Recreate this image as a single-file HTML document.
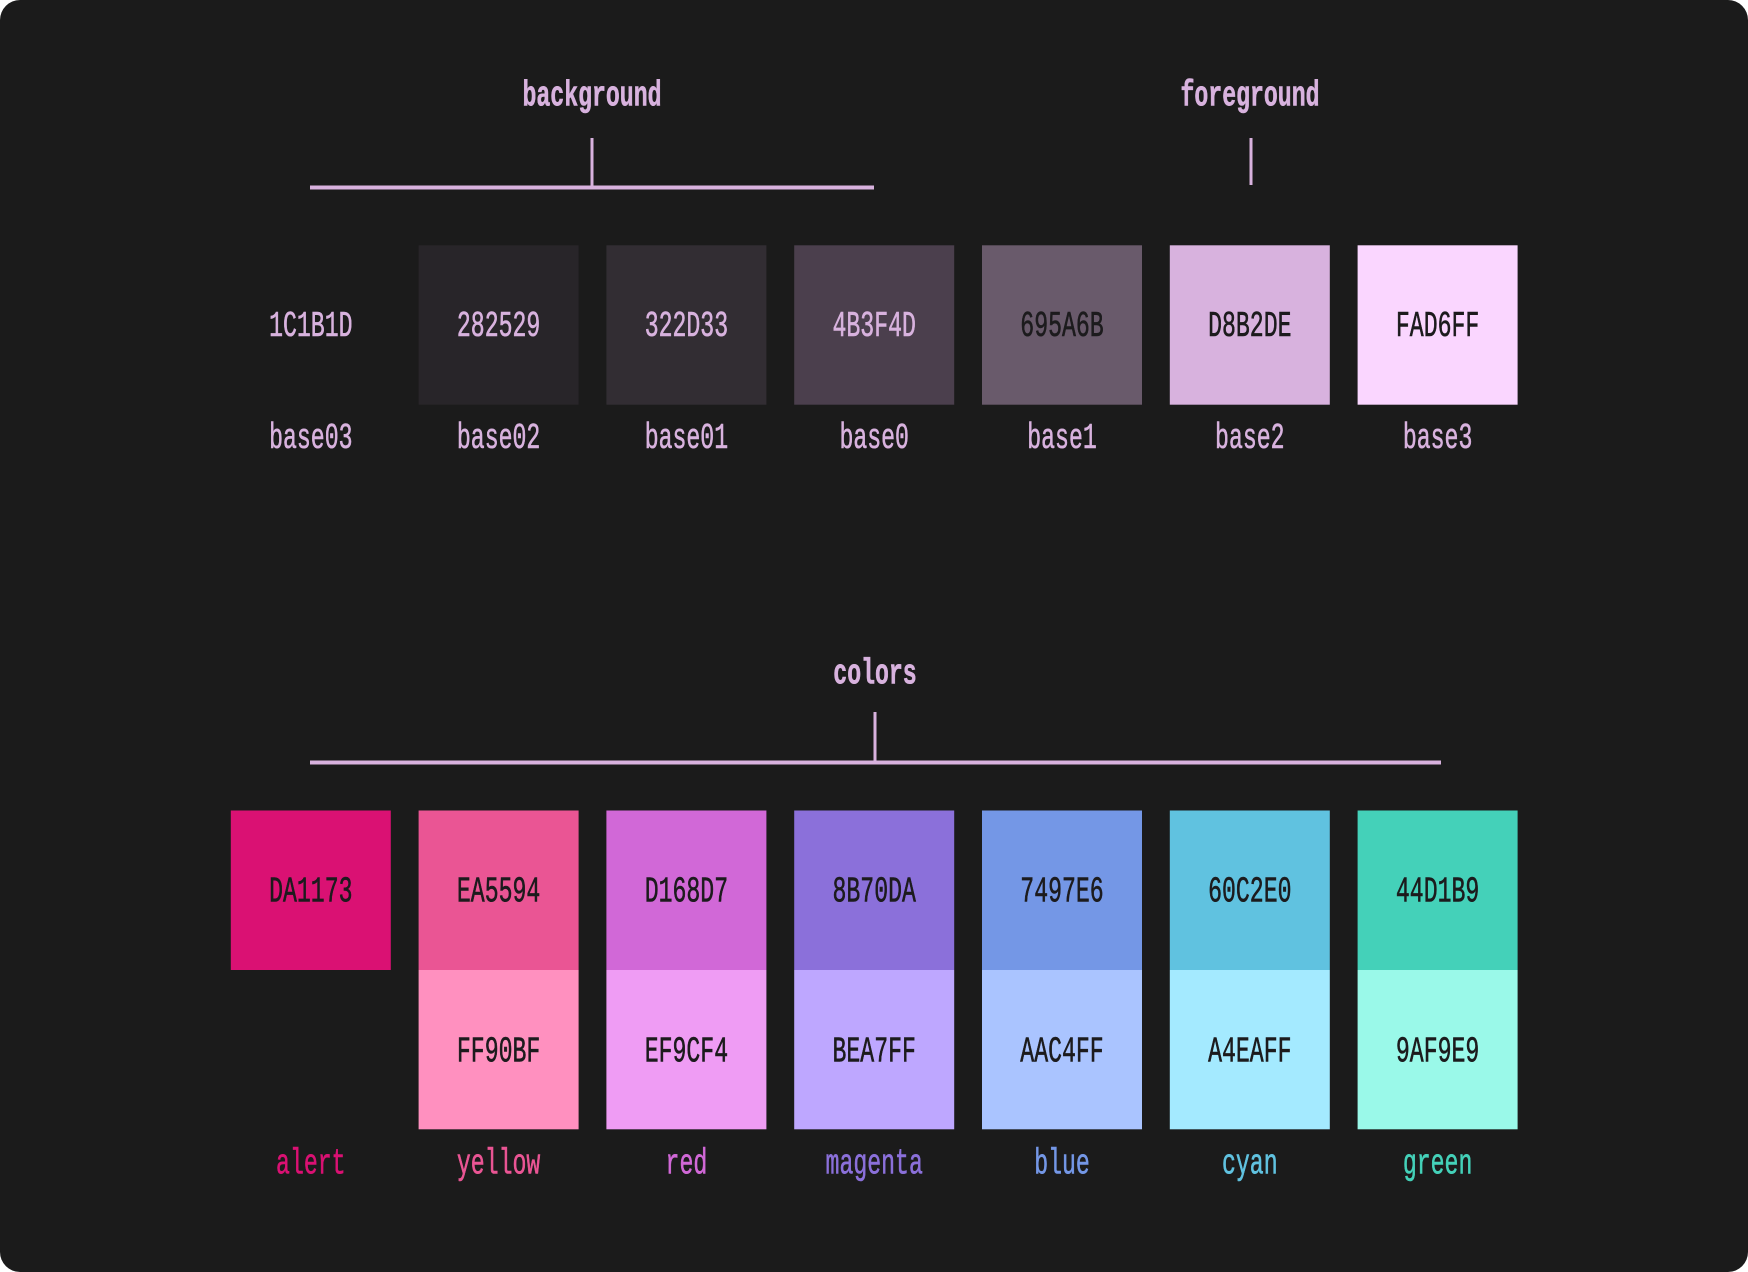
<!DOCTYPE html>
<html><head><meta charset="utf-8"><style>
html,body{margin:0;padding:0;background:#fff;}
svg{display:block;}
text{font-family:"Liberation Mono",monospace;}
</style></head><body>
<svg id="c" width="1748" height="1272" viewBox="0 0 1748 1272">
<rect x="0" y="0" width="1748" height="1272" rx="20" fill="#1b1b1b"/>
</svg>
<script>
const baseHex = ["1C1B1D","282529","322D33","4B3F4D","695A6B","D8B2DE","FAD6FF"];
const baseNames = ["base03","base02","base01","base0","base1","base2","base3"];
const accentHex = ["DA1173","EA5594","D168D7","8B70DA","7497E6","60C2E0","44D1B9"];
const lightHex = [null,"FF90BF","EF9CF4","BEA7FF","AAC4FF","A4EAFF","9AF9E9"];
const accentNames = ["alert","yellow","red","magenta","blue","cyan","green"];

const NS="http://www.w3.org/2000/svg";
const svg=document.getElementById('c');
const X0=230.8, STEP=187.8, W=160;
const fg="#D8B2DE";
function colX(i){return X0+i*STEP;}
function lum(h){const r=parseInt(h.slice(0,2),16),g=parseInt(h.slice(2,4),16),b=parseInt(h.slice(4,6),16);return 0.299*r+0.587*g+0.114*b;}
function rect(x,y,w,h,fill){const r=document.createElementNS(NS,'rect');r.setAttribute('x',x);r.setAttribute('y',y);r.setAttribute('width',w);r.setAttribute('height',h);r.setAttribute('fill',fill);svg.appendChild(r);return r;}
function txt(s,x,y,fill,bold){const t=document.createElementNS(NS,'text');t.setAttribute('x',x);t.setAttribute('y',y+3);t.setAttribute('fill',fill);t.setAttribute('stroke',fill);t.setAttribute('stroke-width','0.6');t.setAttribute('text-anchor','middle');t.setAttribute('dominant-baseline','central');t.setAttribute('font-size','36');if(bold)t.setAttribute('font-weight','bold');t.setAttribute('textLength',s.length*13.9);t.setAttribute('lengthAdjust','spacingAndGlyphs');t.textContent=s;svg.appendChild(t);return t;}
function line(x1,y1,x2,y2,w){const l=document.createElementNS(NS,'line');l.setAttribute('x1',x1);l.setAttribute('y1',y1);l.setAttribute('x2',x2);l.setAttribute('y2',y2);l.setAttribute('stroke',fg);l.setAttribute('stroke-width',w);svg.appendChild(l);return l;}

let e;
e=txt("background",592,93,fg,true);


e=txt("foreground",1250,93,fg,true);


e=txt("colors",875,671,fg,true);


e=line(310,187.5,874,187.5,4);


e=line(592,138,592,187,3);


e=line(1251,138,1251,185,3);


e=line(310,762.5,1441,762.5,4);


e=line(875,712,875,762,3);



baseHex.forEach((h,i)=>{
  const x=colX(i);
  if(i>0){
    const r=rect(x,245.3,W,159.4,'#'+h);
    
    
  }
  const t=txt(h,x+W/2,323.3,lum(h)>90?'#1C1B1D':fg,false);
  
  
  const n=txt(baseNames[i],x+W/2,435.5,fg,false);
  
  
});

accentHex.forEach((h,i)=>{
  const x=colX(i);
  const r=rect(x,810.5,W,159.5,'#'+h);
  
  
  const t=txt(h,x+W/2,889,'#1C1B1D',false);
  
  
  if(lightHex[i]){
    const r2=rect(x,970,W,159.3,'#'+lightHex[i]);
    
    
    const t2=txt(lightHex[i],x+W/2,1049,'#1C1B1D',false);
    
    
  }
  const n=txt(accentNames[i],x+W/2,1161,'#'+h,false);
  
  
});
</script>
</body></html>
